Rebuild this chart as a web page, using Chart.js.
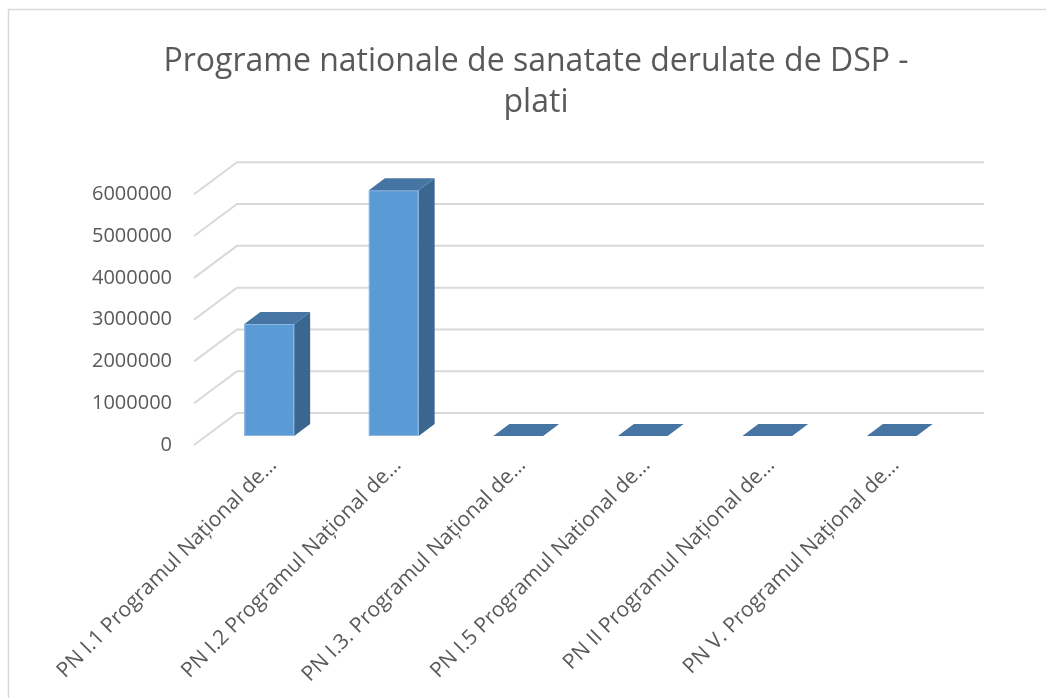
<!DOCTYPE html>
<html>
<head>
<meta charset="utf-8">
<script src="https://cdn.jsdelivr.net/npm/chart.js@4.4.1/dist/chart.umd.min.js"></script>
<style>
  html, body { margin: 0; padding: 0; background: #fff; }
  #wrap { width: 1046px; height: 698px; position: relative; }
</style>
</head>
<body>
<div id="wrap"><canvas id="myChart" width="1046" height="698"></canvas></div>
<script>
const titleLines = ['Programe nationale de sanatate derulate de DSP -', 'plati'];
const categories = [
    'PN I.1 Programul Național de…',
    'PN I.2 Programul Național de…',
    'PN I.3. Programul Național de…',
    'PN I.5 Programul National de…',
    'PN II Programul Național de…',
    'PN V. Programul Național de…'
];
const platiValues = [2680000, 5880000, 0, 0, 0, 0];
const yTicks = [0, 1000000, 2000000, 3000000, 4000000, 5000000, 6000000];

// oblique offsets for the 3D look
const wallDepth = { x: 43, y: -32 };
const barFront = { x: 13, y: -9 };
const barDepth = { x: 16, y: -12 };

const frame = {
    id: 'frame',
    beforeDraw(chart) {
        const ctx = chart.ctx;
        ctx.save();
        ctx.strokeStyle = '#d9d9d9';
        ctx.lineWidth = 1.5;
        ctx.beginPath();
        ctx.moveTo(8.5, 698);
        ctx.lineTo(8.5, 9.5);
        ctx.lineTo(1046, 9.5);
        ctx.stroke();
        ctx.restore();
    }
};

const walls = {
    id: 'walls',
    beforeDatasetsDraw(chart) {
        const ctx = chart.ctx;
        const area = chart.chartArea;
        const y = chart.scales.y;
        ctx.save();
        ctx.strokeStyle = '#d9d9d9';
        ctx.lineWidth = 2;
        yTicks.forEach(v => {
            const py = y.getPixelForValue(v);
            ctx.beginPath();
            ctx.moveTo(area.left, py);
            ctx.lineTo(area.left + wallDepth.x, py + wallDepth.y);
            ctx.lineTo(area.right + wallDepth.x, py + wallDepth.y);
            ctx.stroke();
        });
        ctx.restore();
    }
};

const bars3d = {
    id: 'bars3d',
    afterDatasetsDraw(chart) {
        const ctx = chart.ctx;
        const meta = chart.getDatasetMeta(0);
        ctx.save();
        ctx.lineWidth = 1;
        meta.data.forEach(el => {
            const w = el.width;
            const x0 = el.x - w / 2 + barFront.x;
            const x1 = el.x + w / 2 + barFront.x;
            const top = el.y + barFront.y;
            const bot = el.base + barFront.y;
            const dx = barDepth.x, dy = barDepth.y;

            // side face
            ctx.fillStyle = '#3a6690';
            ctx.beginPath();
            ctx.moveTo(x1, top);
            ctx.lineTo(x1 + dx, top + dy);
            ctx.lineTo(x1 + dx, bot + dy);
            ctx.lineTo(x1, bot);
            ctx.closePath();
            ctx.fill();

            // front face
            if (bot - top > 0.5) {
                ctx.fillStyle = '#5b9bd5';
                ctx.fillRect(x0, top, x1 - x0, bot - top);
                ctx.strokeStyle = '#8fb8e0';
                ctx.strokeRect(x0 + 0.5, top + 0.5, x1 - x0 - 1, bot - top - 1);
            }

            // top face
            ctx.fillStyle = '#4675a3';
            ctx.beginPath();
            ctx.moveTo(x0, top);
            ctx.lineTo(x0 + dx, top + dy);
            ctx.lineTo(x1 + dx, top + dy);
            ctx.lineTo(x1, top);
            ctx.closePath();
            ctx.fill();
        });
        ctx.restore();
    }
};

let myChart;
document.addEventListener('DOMContentLoaded', function () {
    const ctx = document.getElementById('myChart').getContext('2d');
    myChart = new Chart(ctx, {
        type: 'bar',
        data: {
            labels: categories,
            datasets: [{
                label: 'plati',
                data: platiValues,
                backgroundColor: 'rgba(0,0,0,0)',
                borderWidth: 0,
                barPercentage: 0.4,
                categoryPercentage: 1
            }]
        },
        options: {
            responsive: false,
            animation: false,
            layout: { padding: { left: 26, right: 0, top: 0, bottom: 0 } },
            plugins: {
                legend: { display: false },
                tooltip: { enabled: false },
                title: {
                    display: true,
                    text: titleLines,
                    color: '#595959',
                    font: { family: '"Open Sans", sans-serif', size: 32, weight: 'normal', lineHeight: 1.27 },
                    padding: { top: 42, bottom: 71 }
                }
            },
            scales: {
                x: {
                    grid: { display: false, drawTicks: false },
                    border: { display: false },
                    afterFit: scale => { scale.height = 253; },
                    ticks: {
                        color: '#595959',
                        font: { family: '"Open Sans", sans-serif', size: 21 },
                        minRotation: 45,
                        maxRotation: 45,
                        autoSkip: false,
                        labelOffset: 17,
                        padding: 8
                    }
                },
                y: {
                    min: 0,
                    max: 6000000,
                    grid: { display: false, drawTicks: false },
                    border: { display: false },
                    afterFit: scale => { scale.width = 168; },
                    afterBuildTicks: scale => { scale.ticks = yTicks.map(v => ({ value: v })); },
                    ticks: {
                        color: '#595959',
                        font: { family: '"Open Sans", sans-serif', size: 20 },
                        padding: 22,
                        callback: v => String(v)
                    }
                },
                // empty axis on the right, keeps room for the back wall
                yRight: {
                    position: 'right',
                    min: 0,
                    max: 6000000,
                    grid: { display: false, drawTicks: false },
                    border: { display: false },
                    ticks: { display: false },
                    afterFit: scale => { scale.width = 105; }
                }
            }
        },
        plugins: [frame, walls, bars3d]
    });
});
</script>
</body>
</html>
